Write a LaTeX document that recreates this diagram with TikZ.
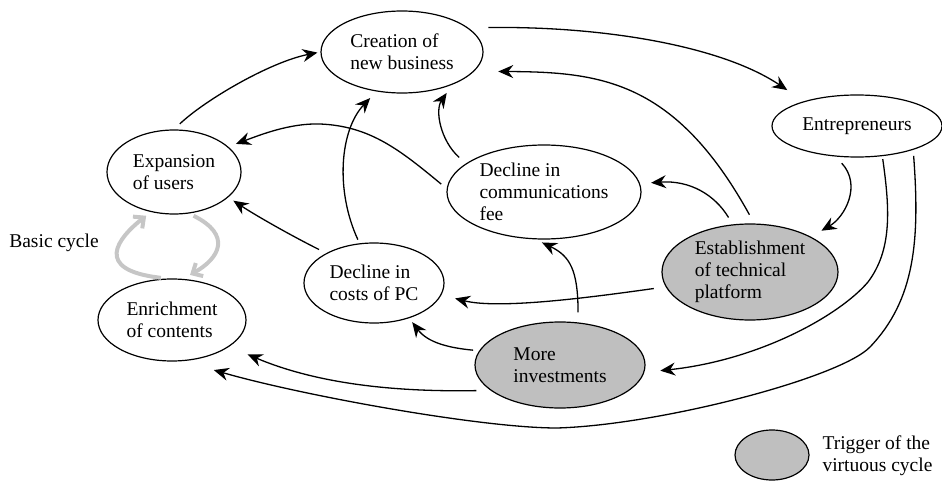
\documentclass[tikz,border=0pt]{standalone}
\usepackage{fontspec}
\setmainfont{Liberation Serif}
\usetikzlibrary{shapes.geometric}
\usetikzlibrary{arrows.meta}
\tikzset{>={Stealth[length=15pt,width=13pt,inset=5pt]}}
\tikzset{
	% ellipses
	bubble/.style={ellipse,draw,line width=1.2pt,inner sep=0pt,align=left,
		font=\fontsize{19.5}{22}\selectfont},
	trigger/.style={bubble,fill=gray!50},
	% plain text
	note/.style={align=left,font=\fontsize{19.5}{22}\selectfont},
	% arrows
	link/.style={->,line width=1.3pt},
	basic/.style={-{Straight Barb[length=8pt,width=15pt]},line width=4pt,color=gray!45},
}

\begin{document}
\begin{tikzpicture}[x=1pt,y=-1pt]
	\useasboundingbox (0,0) rectangle (942,481);

	\node[bubble,minimum width=162pt,minimum height=82pt] (create) at (402,52) {Creation of\\new business};
	\node[bubble,minimum width=134pt,minimum height=84pt] (expand) at (174,172) {Expansion\\of users};
	\node[bubble,minimum width=148pt,minimum height=82pt] (enrich) at (172,320) {Enrichment\\of contents};
	\node[bubble,minimum width=140pt,minimum height=80pt] (pcost) at (374,283) {Decline in\\costs of PC};
	\node[bubble,minimum width=194pt,minimum height=94pt] (commfee) at (544,192) {Decline in\\communications\\fee};
	\node[bubble,minimum width=170pt,minimum height=62pt] (entre) at (857,126) {Entrepreneurs};
	\node[trigger,minimum width=176pt,minimum height=96pt] (estab) at (750,272) {Establishment\\of technical\\platform};
	\node[trigger,minimum width=170pt,minimum height=86pt] (invest) at (560,365) {More\\investments};

	\node[note] (basictext) at (54,243) {Basic cycle};
	\node[trigger,minimum width=74pt,minimum height=50pt] (key) at (772,455) {};
	\node[note,anchor=west] (keytext) at (819,456) {Trigger of the\\virtuous cycle};

	\draw[link,shorten <=8pt,shorten >=3pt] (expand.north) .. controls (205,100) and (270,62) .. (create.180);
	\draw[link,shorten <=20pt,shorten >=20pt] (create.20) .. controls (600,26) and (720,45) .. (entre.155);
	\draw[link,shorten <=10pt,shorten >=24pt] (estab.85) .. controls (675,80) and (600,72) .. (create.-15);
	\draw[link,shorten <=8pt,shorten >=11pt] (estab.110) .. controls (715,195) and (690,180) .. (commfee.5);
	\draw[link,shorten <=9pt,shorten >=12pt] (entre.-125) .. controls (862,185) and (845,217) .. (estab.30);
	\draw[link,shorten <=3pt,shorten >=16pt] (entre.-50) .. controls (890,210) and (892,250) .. (868,282)
		.. controls (840,315) and (760,360) .. (invest.-5);
	\draw[link,shorten <=6pt,shorten >=32pt] (entre.-23) .. controls (920,240) and (915,300) .. (870,347)
		.. controls (840,378) and (660,425) .. (557,428) .. controls (480,428) and (300,395) .. (enrich.-75);

	\draw[link,shorten <=14pt,shorten >=20pt] (invest.200) .. controls (400,392) and (320,385) .. (enrich.-25);
	\draw[link,shorten <=6pt,shorten >=5pt] (invest.170) .. controls (450,348) and (428,343) .. (pcost.-45);
	\draw[link,shorten <=10pt,shorten >=7pt] (invest.67) .. controls (578,270) and (570,256) .. (commfee.-100);
	\draw[link,shorten <=12pt,shorten >=14pt] (estab.190) .. controls (600,296) and (500,310) .. (pcost.-10);

	\draw[link,shorten <=8pt,shorten >=6pt] (pcost.148) .. controls (290,235) and (255,215) .. (expand.-25);
	\draw[link,shorten <=4pt,shorten >=9pt] (pcost.110) .. controls (335,190) and (340,130) .. (create.-123);
	\draw[link,shorten <=9pt,shorten >=10pt] (commfee.160) .. controls (440,140) and (435,110) .. (create.-33);
	\draw[link,shorten <=7pt,shorten >=8pt] (commfee.178) .. controls (400,150) and (370,126) .. (320,124)
		.. controls (290,123) and (260,135) .. (expand.25);

	\draw[basic,shorten <=6pt,shorten >=6pt] (enrich.97) .. controls (92,270) and (118,238) .. (expand.-120);
	\draw[basic,shorten <=5pt,shorten >=8pt] (expand.-70) .. controls (232,235) and (220,258) .. (enrich.75);

\end{tikzpicture}
\end{document}
